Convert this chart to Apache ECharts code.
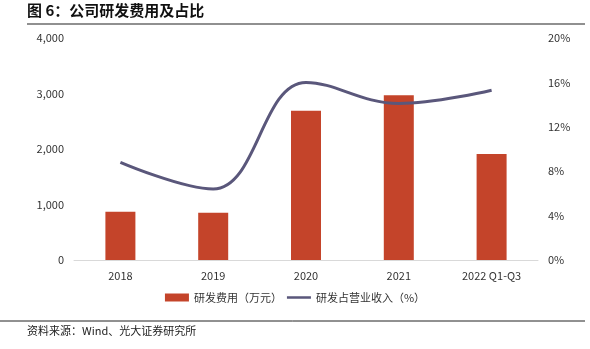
<!DOCTYPE html>
<html><head><meta charset="utf-8">
<script src="https://cdn.jsdelivr.net/npm/echarts@6/dist/echarts.min.js"></script>
<style>html,body{margin:0;padding:0;background:#fff}#c{width:590px;height:349px}</style>
</head><body><div id="c"></div>
<script>
const categories = ['2018','2019','2020','2021','2022 Q1-Q3'];
const rdExpense = [870, 850, 2690, 2970, 1910];
const rdRatio = [8.8, 6.4, 16.0, 14.1, 15.3];
const leftTicks = [0, 1000, 2000, 3000, 4000];
const rightTicks = [0, 4, 8, 12, 16, 20];

const font = '"Noto Sans CJK SC", "Noto Sans", sans-serif';
const chart = echarts.init(document.getElementById('c'));
chart.setOption({
  animation: false,
  textStyle: {fontFamily: font},
  grid: {left: 74, right: 52, top: 38, bottom: 89},
  graphic: [
    {type: 'text', left: 27, top: 3, style: {text: '图 6：公司研发费用及占比', font: 'bold 15px ' + font, fill: '#111'}},
    {type: 'line', shape: {x1: 27, y1: 24, x2: 585, y2: 24}, style: {stroke: '#222', lineWidth: 1.2}},
    {type: 'line', shape: {x1: 0, y1: 321, x2: 585, y2: 321}, style: {stroke: '#222', lineWidth: 1}},
    {type: 'text', left: 27, top: 325, style: {text: '资料来源：Wind、光大证券研究所', font: '11px ' + font, fill: '#222'}}
  ],
  legend: {
    bottom: 41, left: 'center',
    itemGap: 5, itemWidth: 24, itemHeight: 8,
    textStyle: {fontSize: 11, color: '#333', fontFamily: font},
    data: [
      {name: '研发费用（万元）', icon: 'rect'},
      {name: '研发占营业收入（%）', icon: 'path://M0,2.8 H25 V5.2 H0 Z M0,0 H0.01 V8 H0 Z'}
    ]
  },
  xAxis: {
    type: 'category', data: categories,
    axisLine: {lineStyle: {color: '#d9d9d9'}},
    axisTick: {show: false},
    axisLabel: {color: '#333', fontSize: 11, margin: 10}
  },
  yAxis: [
    {type: 'value', min: 0, max: 4000, interval: 1000,
     axisLabel: {color: '#333', fontSize: 11, margin: 10, formatter: v => v.toLocaleString('en-US')},
     splitLine: {show: false}, axisLine: {show: false}, axisTick: {show: false}},
    {type: 'value', min: 0, max: 20, interval: 4,
     axisLabel: {color: '#333', fontSize: 11, margin: 10, formatter: '{value}%'},
     splitLine: {show: false}, axisLine: {show: false}, axisTick: {show: false}}
  ],
  series: [
    {name: '研发费用（万元）', type: 'bar', data: rdExpense, barWidth: 30,
     itemStyle: {color: '#C4442A'}},
    {name: '研发占营业收入（%）', type: 'line', yAxisIndex: 1, data: rdRatio, smooth: 0.4,
     symbol: 'none', lineStyle: {color: '#5A577B', width: 3}, itemStyle: {color: '#5A577B'}}
  ]
});
</script></body></html>
